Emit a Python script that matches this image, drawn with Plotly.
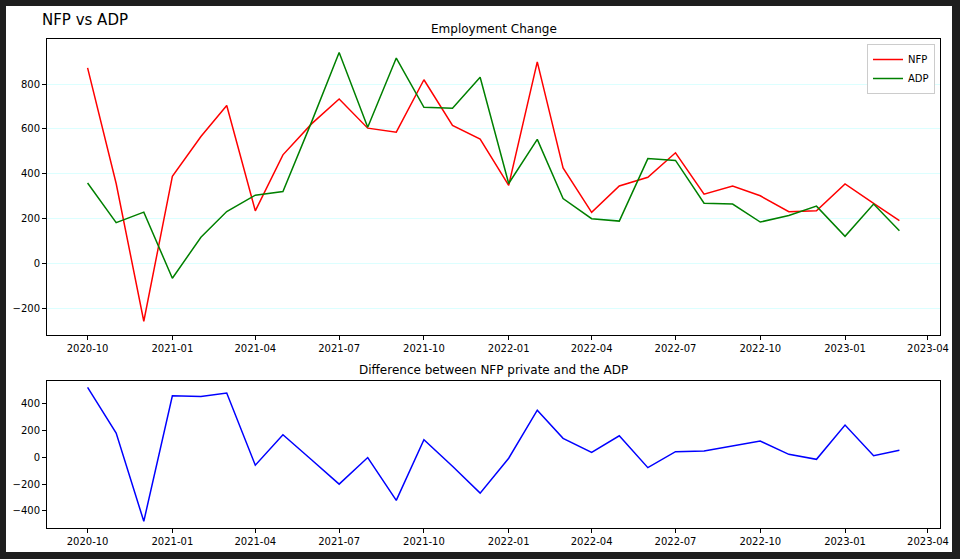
import pandas as pd
import plotly.graph_objects as go
from plotly.subplots import make_subplots

months = pd.date_range("2020-10-01", "2023-03-01", freq="MS")

nfp = [872, 356, -259, 388, 566, 704, 234, 484, 622, 733, 603, 585, 819, 615, 554,
       348, 899, 425, 227, 345, 384, 493, 308, 345, 301, 230, 234, 354, 267, 190]
adp = [358, 181, 228, -67, 116, 231, 304, 320, 630, 941, 607, 916, 696, 692, 830,
       356, 553, 289, 199, 188, 467, 459, 268, 264, 184, 213, 255, 120, 264, 145]
diff = [521, 180, -477, 459, 454, 479, -59, 168, -18, -200, -2, -321, 131, -67, -267,
        -7, 351, 141, 37, 160, -77, 42, 47, 86, 121, 22, -15, 240, 12, 52]

top_ticks = [-200, 0, 200, 400, 600, 800]
bot_ticks = [-400, -200, 0, 200, 400]
x_ticks = pd.date_range("2020-10-01", "2023-04-01", freq="3MS")

W, H = 960, 559
ML, MR, MT, MB = 47, 20, 39, 31
PW, PH = W - ML - MR, H - MT - MB

def px_x(x):
    return (x - ML) / PW

def px_y(y):
    return (H - MB - y) / PH

fig = make_subplots(rows=2, cols=1)

fig.add_trace(go.Scatter(x=months, y=nfp, name="NFP", mode="lines",
                         line=dict(color="red", width=1.5)), row=1, col=1)
fig.add_trace(go.Scatter(x=months, y=adp, name="ADP", mode="lines",
                         line=dict(color="green", width=1.5)), row=1, col=1)
fig.add_trace(go.Scatter(x=months, y=diff, name="diff", mode="lines", showlegend=False,
                         line=dict(color="blue", width=1.5)), row=2, col=1)

span = months[-1] - months[0]
xr = [months[0] - span * 0.05, months[-1] + span * 0.05]

def yrange(vals):
    lo, hi = min(vals), max(vals)
    m = (hi - lo) * 0.05
    return [lo - m, hi + m]

axis_common = dict(showline=True, linecolor="black", linewidth=1, mirror=True,
                   ticks="outside", ticklen=4, tickwidth=0.8, tickcolor="black",
                   tickfont=dict(family="DejaVu Sans", size=10, color="black"),
                   zeroline=False)

fig.update_xaxes(**axis_common, range=xr, tickvals=x_ticks, tickformat="%Y-%m",
                 showgrid=False)
fig.update_yaxes(**axis_common)
fig.update_yaxes(range=yrange(nfp + adp), tickvals=top_ticks, showgrid=True,
                 gridcolor="#dcffff", gridwidth=1, row=1, col=1)
fig.update_yaxes(range=yrange(diff), tickvals=bot_ticks, showgrid=False, row=2, col=1)

fig.update_layout(
    yaxis=dict(domain=[px_y(334.7), 1.0]),
    yaxis2=dict(domain=[0.0, px_y(380.7)]),
    xaxis=dict(domain=[0, 1]), xaxis2=dict(domain=[0, 1]),
)

fig.add_shape(type="rect", xref="paper", yref="paper",
              x0=px_x(6), x1=px_x(952), y0=px_y(552), y1=px_y(6),
              fillcolor="white", line=dict(width=0), layer="below")

fig.add_annotation(text="Employment Change", xref="paper", yref="paper",
                   x=0.5, y=px_y(29), xanchor="center", yanchor="middle",
                   showarrow=False, font=dict(family="DejaVu Sans", size=12, color="black"))
fig.add_annotation(text="Difference between NFP private and the ADP", xref="paper", yref="paper",
                   x=0.5, y=px_y(370), xanchor="center", yanchor="middle",
                   showarrow=False, font=dict(family="DejaVu Sans", size=12, color="black"))

fig.update_layout(
    width=W, height=H,
    margin=dict(l=ML, r=MR, t=MT, b=MB, pad=0),
    paper_bgcolor="#1e1e1e", plot_bgcolor="white",
    title=dict(text="NFP vs ADP", xref="container", yref="container",
               x=42 / W, y=1 - 20 / H, xanchor="left", yanchor="middle",
               font=dict(family="DejaVu Sans", size=15, color="black")),
    legend=dict(x=px_x(935), y=px_y(44), xanchor="right", yanchor="top",
                bgcolor="white", bordercolor="#cccccc", borderwidth=1,
                font=dict(family="DejaVu Sans", size=10, color="black"),
                itemwidth=30, tracegroupgap=0),
    font=dict(family="DejaVu Sans", color="black"),
)

fig.write_html("out.html", config={"displayModeBar": False},
               post_script="document.body.style.margin='0';")
